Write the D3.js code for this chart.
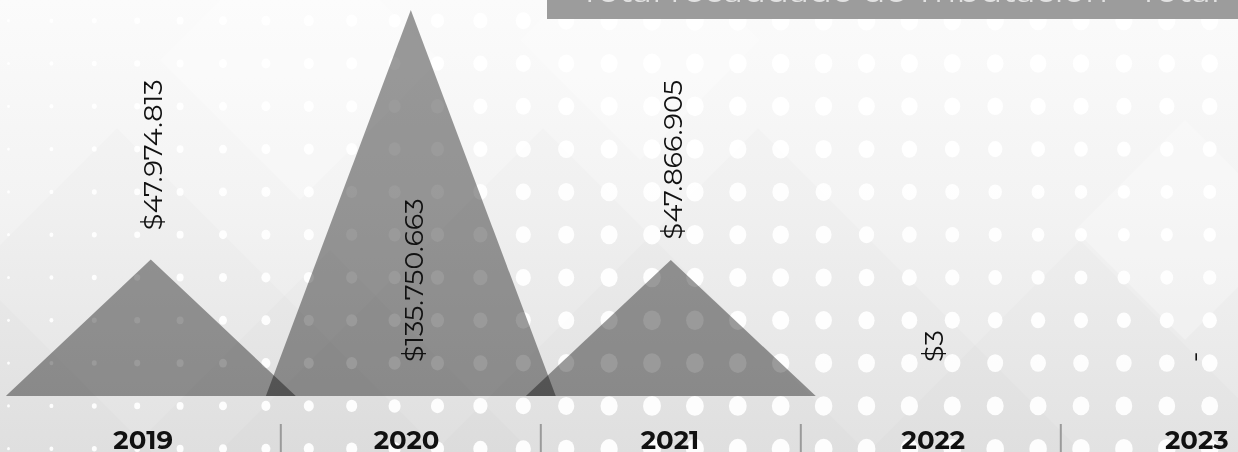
<!DOCTYPE html>
<html><head><meta charset="utf-8">
<script src="https://cdn.jsdelivr.net/npm/d3@7"></script>
<style>
html,body{margin:0;padding:0;background:#f0f0f0;overflow:hidden}
svg{display:block}
</style></head><body>
<svg id="chart" width="1238" height="452"></svg>
<script>
// ---- data ----
const years = ["2019", "2020", "2021", "2022", "2023"];
const values = [47974813, 135750663, 47866905, 3, null];
const titleText = "Total recaudado de Tributación - Total";

const W = 1238, H = 452;
const svg = d3.select("#chart");
const defs = svg.append("defs");

// background gradient
const grad = defs.append("linearGradient").attr("id", "bg")
  .attr("x1", 0).attr("y1", 0).attr("x2", 0).attr("y2", 1);
grad.append("stop").attr("offset", "0%").attr("stop-color", "#fbfbfb");
grad.append("stop").attr("offset", "45%").attr("stop-color", "#f3f3f3");
grad.append("stop").attr("offset", "100%").attr("stop-color", "#e5e5e5");
svg.append("rect").attr("width", W).attr("height", H).attr("fill", "url(#bg)");

// faint decorative pyramids in the background
const deco = svg.append("g");
const darkPeaks = [[117, 128], [543, 128], [758, 128], [1080, 240], [-60, 240], [330, 250]];
darkPeaks.forEach(([px, py]) => {
  deco.append("path")
    .attr("d", `M${px},${py}L${px + (H - py)},${H}L${px - (H - py)},${H}Z`)
    .attr("fill", "#000").attr("fill-opacity", 0.013);
});
const lightDiamonds = [[1185, 230, 110], [640, 40, 120], [300, 60, 140]];
lightDiamonds.forEach(([cx, cy, r]) => {
  deco.append("path")
    .attr("d", `M${cx},${cy - r}L${cx + r},${cy}L${cx},${cy + r}L${cx - r},${cy}Z`)
    .attr("fill", "#fff").attr("fill-opacity", 0.25);
});

// halftone dot pattern
const dotCols = d3.range(0, 29).map(i => 8.5 + 42.9 * i);
const dotRows = d3.range(0, 11).map(j => 20.7 + 42.8 * j);
const dots = [];
dotRows.forEach(y => dotCols.forEach(x => {
  let r = Math.min(10, 1.5 + 8.5 * x / 640);
  const dx = (x - 1120) / 200, dy = (y - 230) / 100;
  r = r - 3.3 * Math.exp(-(dx * dx + dy * dy) / 2);
  dots.push({ x, y, r });
}));
svg.append("g").selectAll("ellipse").data(dots).join("ellipse")
  .attr("cx", d => d.x).attr("cy", d => d.y)
  .attr("rx", d => d.r * 0.9).attr("ry", d => d.r)
  .attr("fill", "#fff").attr("fill-opacity", 0.92);

// ---- scales ----
const baseY = 396;
const x = d3.scaleBand().domain(years).range([20.8, 1320.8]).padding(0);
const xF = d3.scaleBand().domain(years).range([11.5, 1328.5]).padding(0);
const maxV = d3.max(values);
const y = d3.scaleLinear().domain([0, maxV]).range([baseY, 10]);

const data = years.map((yr, i) => ({ year: yr, value: values[i] }));
const triW = x.bandwidth() * 1.115;

// triangles
svg.append("g").selectAll("path.tri").data(data.filter(d => d.value != null)).join("path")
  .attr("class", "tri")
  .attr("d", d => {
    const cx = x(d.year) + x.bandwidth() / 2;
    return `M${cx - triW / 2},${baseY}L${cx},${y(d.value)}L${cx + triW / 2},${baseY}Z`;
  })
  .attr("fill", "#9b9b9b")
  .style("mix-blend-mode", "multiply");

// value labels
const loc = d3.formatLocale({ decimal: ",", thousands: ".", grouping: [3], currency: ["$", ""] });
const fmt = loc.format("$,.0f");
const lblG = svg.append("g");
data.forEach(d => {
  const cx = x(d.year) + x.bandwidth() / 2;
  const label = d.value == null ? "-" : fmt(d.value);
  const yTop = d.value == null ? baseY : y(d.value);
  const tiny = d.value == null || d.value / maxV < 0.01;
  const fitsAbove = (yTop - 180) >= 0;
  let ly, anchor, lx;
  if (!tiny && fitsAbove) { ly = yTop - 180; anchor = "end"; lx = cx + 1.5; }
  else { ly = baseY - 34; anchor = "start"; lx = cx + 2.5; }
  lblG.append("text")
    .attr("transform", `translate(${lx},${ly}) rotate(-90)`)
    .attr("dy", "0.35em")
    .attr("text-anchor", anchor)
    .attr("font-family", "Montserrat, Inter, 'DejaVu Sans', sans-serif")
    .attr("font-size", 27)
    .attr("fill", "#111")
    .text(label);
});

// separators
svg.append("g").selectAll("line").data(years.slice(1)).join("line")
  .attr("x1", d => x(d)).attr("x2", d => x(d))
  .attr("y1", 424).attr("y2", H)
  .attr("stroke", "#9a9a9a").attr("stroke-width", 2);

// year labels
svg.append("g").selectAll("text").data(years).join("text")
  .attr("x", d => xF(d) + xF.bandwidth() / 2)
  .attr("y", 449)
  .attr("text-anchor", "middle")
  .attr("font-family", "Montserrat, Inter, 'DejaVu Sans', sans-serif")
  .attr("font-weight", 700)
  .attr("font-size", 26)
  .attr("fill", "#111")
  .text(d => d);

// title box (mostly cut off at top)
svg.append("rect").attr("x", 547).attr("y", 0).attr("width", W - 547).attr("height", 19)
  .attr("fill", "#9c9c9c");
svg.append("text").attr("x", 580).attr("y", 1.5)
  .attr("font-family", "Montserrat, Inter, sans-serif")
  .attr("font-size", 30).attr("fill", "#e2e2e2")
  .attr("textLength", 640).attr("lengthAdjust", "spacingAndGlyphs")
  .text(titleText);
</script>
</body></html>
